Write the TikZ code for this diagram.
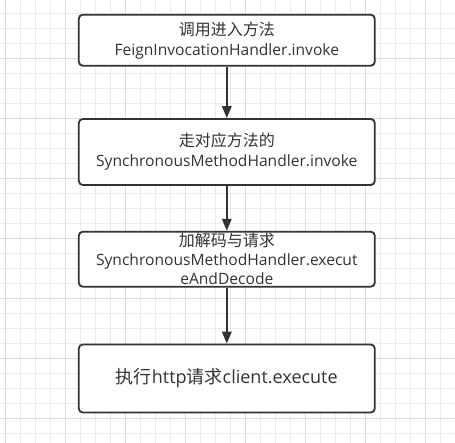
\documentclass[tikz,border=0pt]{standalone}
\usepackage{fontspec}
\setmainfont{Open Sans}
\newfontfamily\cjk{Noto Sans CJK SC}
\usetikzlibrary{arrows.meta}
\definecolor{linegray}{HTML}{333333}
\definecolor{gridminor}{HTML}{EBEBEB}
\definecolor{gridmajor}{HTML}{DCDCDC}

\begin{document}
\begin{tikzpicture}[
    x=1pt, y=-1pt,
    box/.style={rectangle, draw=linegray, line width=1.8pt, rounded corners=4pt, fill=white, minimum width=296pt, inner sep=0pt, text=linegray, align=center, font=\fontsize{15.6}{20}\selectfont},
    bigbox/.style={box, font=\fontsize{18}{20}\selectfont},
    arrow/.style={-{Triangle[length=12pt, width=9.5pt]}, draw=linegray, line width=1.8pt}
]

% Background grid
\useasboundingbox (0,0) rectangle (455,443);
\fill[white] (0,0) rectangle (455,443);
\foreach \k in {0,...,30} {
    \draw[gridminor, line width=1pt] (5.7+15*\k,0) -- (5.7+15*\k,443);
    \draw[gridminor, line width=1pt] (0,-1.7+15*\k) -- (455,-1.7+15*\k);
}
\foreach \k in {0,...,7} {
    \draw[gridmajor, line width=1pt] (5.7+60*\k,0) -- (5.7+60*\k,443);
    \draw[gridmajor, line width=1pt] (0,-1.7+60*\k) -- (455,-1.7+60*\k);
}

% Steps
\node[box, minimum height=51pt] (invoke) at (226.8,40.2) {{\cjk\fontsize{16}{20}\selectfont 调用进入方法}\\FeignInvocationHandler.invoke};
\node[box, minimum height=66pt] (sync) at (226.8,152) {{\cjk\fontsize{16}{20}\selectfont 走对应方法的}\\SynchronousMethodHandler.invoke};
\node[box, minimum height=55pt, label={[font=\fontsize{15.6}{19}\selectfont, text=linegray, align=center]center:{\cjk\fontsize{16}{19}\selectfont 加解码与请求}\\SynchronousMethodHandler.execut\\eAndDecode}] (decode) at (226.8,259.2) {};
\node[bigbox, minimum height=68pt] (client) at (226.8,378.5) {{\cjk 执行}http{\cjk 请求}client.execute};

% Arrows
\draw[arrow] (invoke) -- (sync);
\draw[arrow] (sync) -- (decode);
\draw[arrow] (decode) -- (client);

\end{tikzpicture}
\end{document}
